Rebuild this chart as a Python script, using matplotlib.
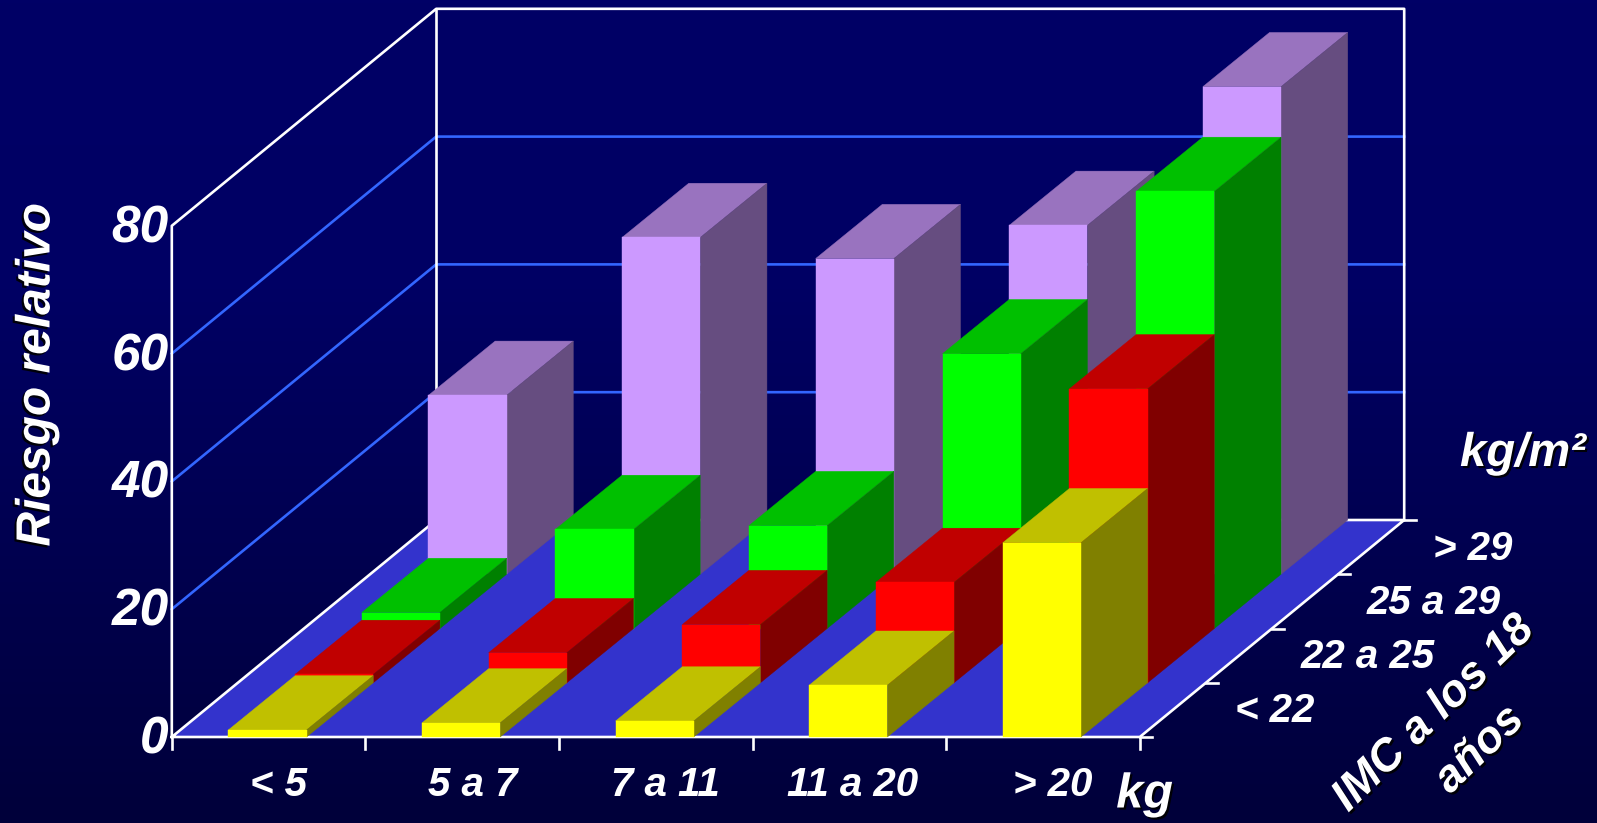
# -*- coding: utf-8 -*-
"""
Riesgo relativo por aumento de peso e IMC a los 18 anos
oblique 3D bars drawn on a flat axes
"""

import numpy as np
import matplotlib
matplotlib.use('Agg')
import matplotlib.pyplot as plt
import matplotlib.patheffects as pe
from matplotlib.patches import Polygon

plt.rcParams['font.family'] = ['Liberation Sans', 'DejaVu Sans']

weight_labels = ['< 5', '5 a 7', '7 a 11', '11 a 20', '> 20']
bmi_labels = ['< 22', '22 a 25', '25 a 29', '> 29']
value_ticks = [0, 20, 40, 60, 80]

bmi_lt22 = [1.1, 2.2, 2.5, 8.1, 30.4]
bmi_22_25 = [1.3, 4.7, 9.1, 15.7, 46.0]
bmi_25_29 = [2.5, 15.5, 16.1, 43.0, 68.4]
bmi_gt29 = [28.0, 52.7, 49.4, 54.6, 76.3]
series = [bmi_lt22, bmi_22_25, bmi_25_29, bmi_gt29]

# front, top, side
shades = [
    ('#ffff00', '#c0c000', '#808000'),
    ('#ff0000', '#c00000', '#800000'),
    ('#00ff00', '#00c000', '#008000'),
    ('#cc99ff', '#9973bf', '#664d80'),
]

W, H = 1597, 823
PX_X = 193.6   # pixels per weight category
PX_Y = 6.39    # pixels per unit of risk
X0, Y0 = 171.8, 737.0   # where the front floor corner sits
DX = 66.1 / PX_X        # shift per bmi row
DY = 54.25 / PX_Y
BAR_DX = 66.7 / PX_X    # the bars run a touch wider than the floor
BAR_LEFT = 0.292
BAR_W = 0.404
TOP = 80

# the category labels are not evenly centred under the bars
label_nudge = [10, 10, 10, 3, 10]


def proj(x, row, v):
    return x + row * DX, v + row * DY


def bar_proj(x, row, v):
    return x + row * BAR_DX, v + row * DY


fig = plt.figure(figsize=(W / 100, H / 100), dpi=100)
ax = fig.add_axes([0, 0, 1, 1])
ax.set_xlim(-X0 / PX_X, (W - X0) / PX_X)
ax.set_ylim((Y0 - H) / PX_Y, Y0 / PX_Y)
ax.axis('off')

# background holds navy at the top then fades darker
grad = np.zeros((256, 1, 3))
grad[:, 0, 2] = np.interp(np.linspace(0, 1, 256), [0, 0.35, 1], [102, 100, 58]) / 255
ax.imshow(grad, extent=ax.get_xlim() + ax.get_ylim(), origin='upper',
          aspect='auto', zorder=0)

n_cat = len(weight_labels)
n_row = len(bmi_labels)


def line(pts, color='white', lw=1.9, z=2):
    xs, ys = zip(*pts)
    ax.plot(xs, ys, color=color, lw=lw, zorder=z, solid_capstyle='projecting')


# floor
ax.add_patch(Polygon([proj(0, 0, 0), proj(n_cat, 0, 0),
                      proj(n_cat, n_row, 0), proj(0, n_row, 0)],
                     fc='#3333cc', ec='none', zorder=1))

# grid on the two walls
for v in value_ticks[1:-1]:
    line([proj(0, 0, v), proj(0, n_row, v), proj(n_cat, n_row, v)],
         color='#3366ff', lw=1.9)

# wall and floor frame
line([proj(0, 0, 0), proj(0, 0, TOP), proj(0, n_row, TOP),
      proj(n_cat, n_row, TOP), proj(n_cat, n_row, 0)])
line([proj(0, n_row, TOP), proj(0, n_row, 0)])
line([proj(0, 0, 0), proj(0, n_row, 0), proj(n_cat, n_row, 0),
      proj(n_cat, 0, 0), proj(0, 0, 0)])

# tick marks
tick_down = 12 / PX_Y
tick_right = 12 / PX_X
for i in range(n_cat + 1):
    line([(i, 0), (i, -tick_down)])
for r in range(n_row + 1):
    x, y = proj(n_cat, r, 0)
    line([(x, y), (x + tick_right, y)])

# bars, back row first so the front ones cover them
z = 3
for row in range(n_row - 1, -1, -1):
    front, top, side = shades[row]
    for i, val in enumerate(series[row]):
        l = i + BAR_LEFT
        r = l + BAR_W
        faces = [
            ([bar_proj(l, row, val), bar_proj(r, row, val),
              bar_proj(r, row + 1, val), bar_proj(l, row + 1, val)], top),
            ([bar_proj(r, row, 0), bar_proj(r, row + 1, 0),
              bar_proj(r, row + 1, val), bar_proj(r, row, val)], side),
            ([bar_proj(l, row, 0), bar_proj(r, row, 0),
              bar_proj(r, row, val), bar_proj(l, row, val)], front),
        ]
        for pts, col in faces:
            ax.add_patch(Polygon(pts, fc=col, ec=col, lw=0.3, zorder=z))
        z += 1

txt = dict(color='white', fontweight='bold', fontstyle='italic', zorder=50)
shadow = [pe.withSimplePatchShadow(offset=(-1.5, -1.5), shadow_rgbFace='k', alpha=0.9)]
soft = [pe.withSimplePatchShadow(offset=(1.5, -1.5), shadow_rgbFace='k', alpha=0.9)]

for v in value_ticks:
    ax.text(-3 / PX_X, v - 3 / PX_Y, str(v), ha='right', va='center',
            fontsize=37, **txt)

for i, lab in enumerate(weight_labels):
    ax.text(i + 0.5 + label_nudge[i] / PX_X, -47.5 / PX_Y, lab, ha='center',
            va='center', fontsize=29, **txt)

for r, lab in enumerate(bmi_labels):
    x, y = proj(n_cat, r, 25.5 / PX_Y)
    ax.text(x + 95 / PX_X, y, lab, ha='left', va='center', fontsize=29, **txt)

ax.text(5.03 - 1 / PX_X, -58 / PX_Y, 'kg', ha='center', va='center', fontsize=35,
        path_effects=soft, **txt)
ax.text((1523 - X0) / PX_X, (Y0 - 454) / PX_Y, 'kg/m²', ha='center', va='center',
        fontsize=34, path_effects=soft, **txt)
ax.text((37 - X0) / PX_X, (Y0 - 375) / PX_Y, 'Riesgo relativo', rotation=90,
        ha='center', va='center', fontsize=34.5, path_effects=shadow, **txt)

# the two lines of this title sit on their own, slightly off centre of each other
ax.text((1434 - X0) / PX_X, (Y0 - 714) / PX_Y, 'IMC a los 18', rotation=44,
        rotation_mode='anchor', ha='center', va='center',
        fontsize=32.5, path_effects=soft, **txt)
ax.text((1480 - X0) / PX_X, (Y0 - 750) / PX_Y, 'años', rotation=44,
        rotation_mode='anchor', ha='center', va='center',
        fontsize=32.5, path_effects=soft, **txt)

fig.savefig('out.png', dpi=100)
